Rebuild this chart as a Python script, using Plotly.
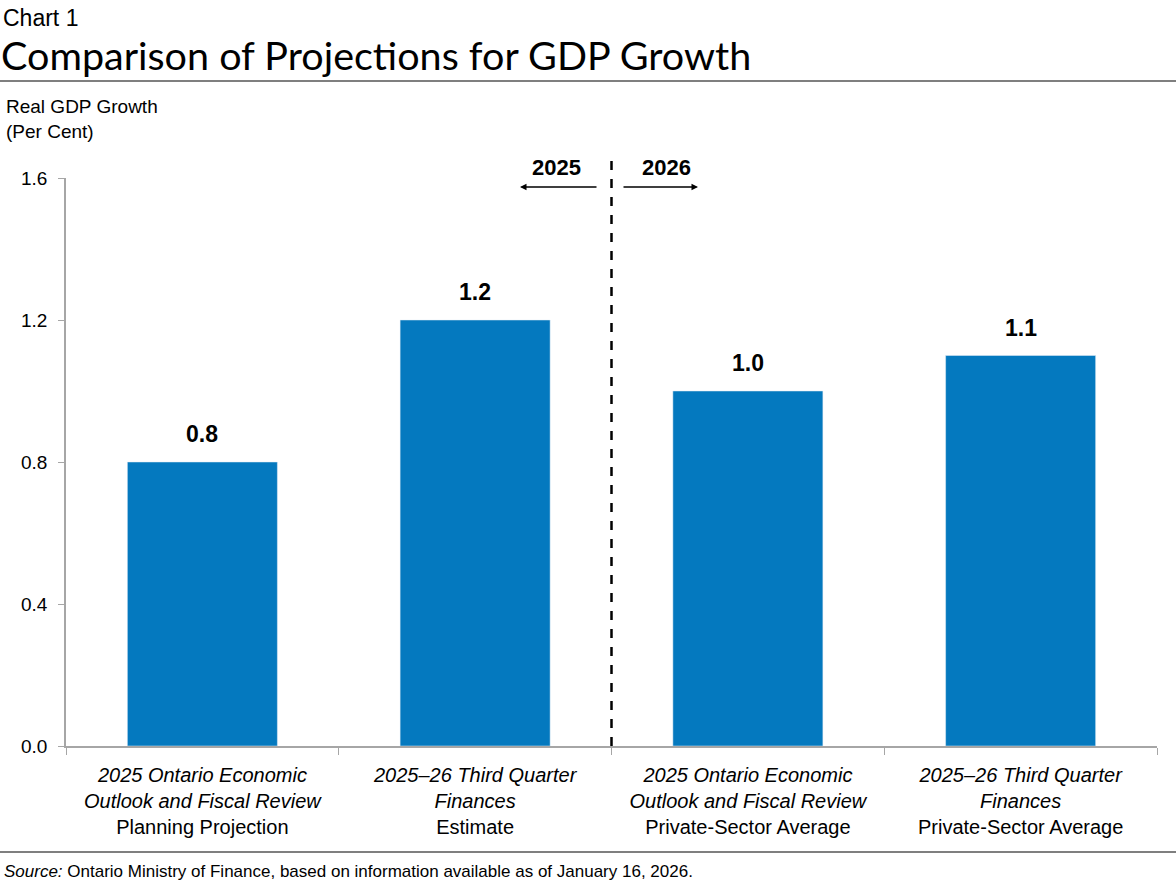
import plotly.graph_objects as go

# ---- data ----
cat_italic = [
    "2025 Ontario Economic<br>Outlook and Fiscal Review",
    "2025–26 Third Quarter<br>Finances",
    "2025 Ontario Economic<br>Outlook and Fiscal Review",
    "2025–26 Third Quarter<br>Finances",
]
cat_plain = [
    "Planning Projection",
    "Estimate",
    "Private-Sector Average",
    "Private-Sector Average",
]
cat_ids = ["a", "b", "c", "d"]
values = [0.8, 1.2, 1.0, 1.1]
y_ticks = [0.0, 0.4, 0.8, 1.2, 1.6]
period_labels = ["2025", "2026"]

FONT = "Liberation Sans Narrow, Arial Narrow, Liberation Sans, Arial, sans-serif"
TITLE_FONT = "Lato, Open Sans, sans-serif"
BLUE = "#0479BF"
GRID = "#A6A6A6"

W, H = 1176, 888
L, R, T, B = 66, 19, 178, 142
PH = H - T - B
PW = W - L - R


def py(px):
    return (H - B - px) / PH


def pxx(px):
    return (px - L) / PW


ticktext = [f"<i>{a}</i><br>{b}" for a, b in zip(cat_italic, cat_plain)]

fig = go.Figure()
fig.add_trace(go.Bar(
    x=cat_ids, y=values, marker_color=BLUE, width=0.55, hoverinfo="skip",
))

# value labels above bars
for c, v in zip(cat_ids, values):
    fig.add_annotation(x=c, y=v, text=f"<b>{v:.1f}</b>", showarrow=False,
                       yanchor="bottom", xanchor="center", yshift=13,
                       font=dict(family=FONT, size=23, color="black"))

fig.update_layout(
    width=W, height=H, margin=dict(l=L, r=R, t=T, b=B),
    plot_bgcolor="white", paper_bgcolor="white", showlegend=False,
    font=dict(family=FONT, size=18, color="black"),
    xaxis=dict(
        type="category", categoryarray=cat_ids, tickvals=cat_ids, ticktext=ticktext,
        tickson="boundaries", ticks="outside", ticklen=7, tickcolor=GRID,
        showline=True, linecolor=GRID, linewidth=1.5, showgrid=False,
        tickfont=dict(family=FONT, size=20), range=[-0.5, 3.5],
        ticklabelstandoff=10,
    ),
    yaxis=dict(
        range=[0, 1.6], tickvals=y_ticks, tickformat=".1f", ticks="outside",
        ticklen=6, tickcolor=GRID, showline=True, linecolor=GRID, linewidth=1.5,
        showgrid=False, zeroline=False, tickfont=dict(family=FONT, size=19),
        ticklabelstandoff=7,
    ),
    bargap=0.45,
)

# dashed divider between 2025 and 2026
fig.add_shape(type="line", xref="x", yref="paper", x0=1.5, x1=1.5, y0=0, y1=py(155),
              line=dict(color="black", width=2.5, dash="dash"))

# period labels and arrows
fig.add_annotation(text=f"<b>{period_labels[0]}</b>", xref="paper", yref="paper",
                   x=pxx(556), y=py(168), xanchor="center", yanchor="middle",
                   showarrow=False, font=dict(size=22))
fig.add_annotation(text=f"<b>{period_labels[1]}</b>", xref="paper", yref="paper",
                   x=pxx(666), y=py(168), xanchor="center", yanchor="middle",
                   showarrow=False, font=dict(size=22))
fig.add_annotation(text="", xref="paper", yref="paper", x=pxx(520), y=py(187),
                   ax=78, ay=0, showarrow=True, arrowhead=2, arrowsize=1,
                   arrowwidth=1.3, arrowcolor="black")
fig.add_annotation(text="", xref="paper", yref="paper", x=pxx(698), y=py(187),
                   ax=-76, ay=0, showarrow=True, arrowhead=2, arrowsize=1,
                   arrowwidth=1.3, arrowcolor="black")

# titles
fig.add_annotation(text="Chart 1", xref="paper", yref="paper", x=pxx(1), y=py(3),
                   xanchor="left", yanchor="top", showarrow=False,
                   font=dict(family=FONT, size=23, color="black"))
fig.add_annotation(text="Comparison of Projections for GDP Growth", xref="paper", yref="paper",
                   x=pxx(-1), y=py(29), xanchor="left", yanchor="top", showarrow=False,
                   font=dict(family=TITLE_FONT, size=39.5, color="black"))
fig.add_shape(type="line", xref="paper", yref="paper", x0=pxx(0), x1=pxx(W),
              y0=py(81), y1=py(81), line=dict(color="black", width=1.2))

# y-axis title
fig.add_annotation(text="Real GDP Growth<br>(Per Cent)", xref="paper", yref="paper",
                   x=pxx(4), y=py(94), xanchor="left", yanchor="top", align="left",
                   showarrow=False, font=dict(size=19))

# bottom rule and source
fig.add_shape(type="line", xref="paper", yref="paper", x0=pxx(0), x1=pxx(W),
              y0=py(852), y1=py(852), line=dict(color="black", width=1.2))
fig.add_annotation(text="<i>Source:</i> Ontario Ministry of Finance, based on information available as of January 16, 2026.",
                   xref="paper", yref="paper", x=pxx(2), y=py(871), xanchor="left",
                   yanchor="middle", showarrow=False, font=dict(size=17))

fig.write_html("out.html", config={"displayModeBar": False},
               post_script="document.body.style.margin='0';document.body.style.overflow='hidden';")
